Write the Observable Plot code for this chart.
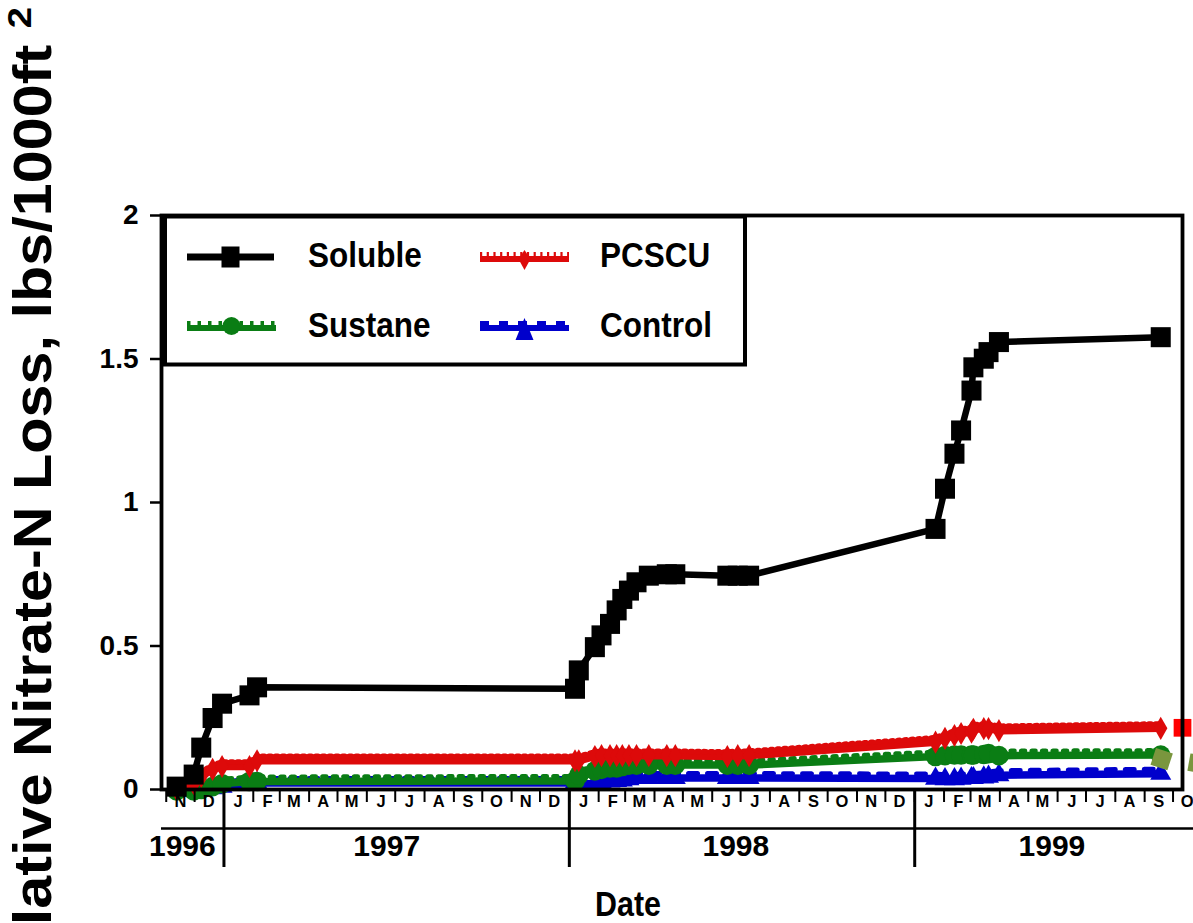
<!DOCTYPE html>
<html><head><meta charset="utf-8">
<script src="https://cdn.jsdelivr.net/npm/d3@7"></script>
<script src="https://cdn.jsdelivr.net/npm/@observablehq/plot@0.6"></script>
<style>
html,body{margin:0;padding:0;background:#fff;}
#chart{width:1193px;height:923px;overflow:hidden;}
</style></head><body><div id="chart"></div>
<script>
// ---- data ----
const dates = [
  "1996-11-12","1996-11-30","1996-12-08","1996-12-20","1996-12-30","1997-01-28","1997-02-05",
  "1998-01-07","1998-01-11","1998-01-28","1998-02-04","1998-02-13","1998-02-20","1998-02-26","1998-03-05","1998-03-13","1998-03-26","1998-04-14","1998-04-23","1998-06-17","1998-06-28","1998-07-10",
  "1999-01-23","1999-02-02","1999-02-12","1999-02-19","1999-03-02","1999-03-04","1999-03-15","1999-03-20","1999-03-31","1999-09-18"
];
const soluble = [0.01,0.052,0.146,0.249,0.299,0.328,0.356,
  0.351,0.415,0.496,0.537,0.577,0.624,0.664,0.693,0.722,0.745,0.75,0.75,0.745,0.745,0.745,
  0.908,1.048,1.17,1.251,1.39,1.471,1.501,1.524,1.559,1.576];
const pcscu = [0.0,0.02,0.045,0.07,0.08,0.08,0.10,
  0.10,0.10,0.115,0.118,0.118,0.118,0.118,0.118,0.118,0.118,0.118,0.118,0.115,0.118,0.118,
  0.165,0.178,0.188,0.195,0.2,0.21,0.212,0.212,0.205,0.213];
const sustane = [-0.005,-0.005,0.0,0.01,0.02,0.028,0.028,
  0.03,0.05,0.065,0.07,0.075,0.075,0.08,0.085,0.085,0.085,0.085,0.085,0.085,0.085,0.085,
  0.115,0.118,0.12,0.12,0.12,0.12,0.122,0.125,0.118,0.12];
const control = [0.0,-0.005,0.0,0.005,0.01,0.02,0.023,
  0.023,0.02,0.02,0.025,0.028,0.03,0.032,0.036,0.04,0.04,0.04,0.04,0.04,0.04,0.04,
  0.038,0.036,0.036,0.038,0.04,0.04,0.042,0.045,0.05,0.055];
// stray markers at the right edge of the original figure
const strayDates = ["1999-10-11","1999-09-19","1999-10-27"];
const strayValues = [0.215,0.106,0.09];
const strayColors = ["#ff0000","#7a963e","#7a963e"];
const strayRotate = [0,18,10];

const yTicks = [0,0.5,1,1.5,2];
const monthLabels = ["N","D",
  "J","F","M","A","M","J","J","A","S","O","N","D",
  "J","F","M","A","M","J","J","A","S","O","N","D",
  "J","F","M","A","M","J","J","A","S","O"];
const yearStarts = ["1997-01-01","1998-01-01","1999-01-01"];
const yearLabels = ["1996","1997","1998","1999"];
const yearLabelDates = ["1996-11-18","1997-06-22","1998-06-26","1999-05-26"];
const xDomain = ["1996-10-27","1999-10-11"];
const axisLineEnd = "1999-10-24";

const seriesNames = ["Soluble","PCSCU","Sustane","Control"];
const colors = {Soluble:"#000000", PCSCU:"#dd0a0a", Sustane:"#0a7d14", Control:"#0000cc"};

// ---- tables ----
const P = s => new Date(s + "T00:00:00Z");
const tbl = arr => dates.map((d,i) => ({date: P(d), value: arr[i]}));
const tSol = tbl(soluble), tPc = tbl(pcscu), tSu = tbl(sustane), tCo = tbl(control);
const monthStarts = d3.utcMonth.range(P("1996-11-01"), P("1999-11-01"));
const monthTable = monthLabels.map((l,i) => ({date: d3.utcDay.offset(monthStarts[i], 15), label: l}));
const yearTable = yearLabels.map((l,i) => ({date: P(yearLabelDates[i]), label: l}));
const strayTable = strayDates.map((d,i) => ({date: P(d), value: strayValues[i], color: strayColors[i], rot: strayRotate[i]}));

const F = "'Liberation Sans', Arial, Helvetica, sans-serif";

const plot = Plot.plot({
  width: 1193, height: 923,
  marginLeft: 161, marginRight: 11, marginTop: 215, marginBottom: 134,
  style: {fontFamily: F, fontWeight: "bold", color: "#000", background: "#fff", overflow: "hidden"},
  x: {type: "utc", domain: xDomain.map(P), label: null},
  y: {domain: [0, 2], label: null},
  marks: [
    // Control
    Plot.line(tCo, {x:"date", y:"value", stroke: colors.Control, strokeWidth: 7.5}),
    Plot.line(tCo, {x:"date", y:"value", stroke: colors.Control, strokeWidth: 5, strokeDasharray: "9,10", dy: -4.5}),
    Plot.dot(tCo, {x:"date", y:"value", symbol:"triangle", r: 7.8, fill: colors.Control, stroke: "none"}),
    // Sustane
    Plot.line(tSu, {x:"date", y:"value", stroke: colors.Sustane, strokeWidth: 7.5}),
    Plot.line(tSu, {x:"date", y:"value", stroke: colors.Sustane, strokeWidth: 5, strokeDasharray: "3.5,7", dy: -4.5}),
    Plot.dot(tSu, {x:"date", y:"value", symbol:"circle", r: 9.8, fill: colors.Sustane, stroke: "none"}),
    // PCSCU
    Plot.line(tPc, {x:"date", y:"value", stroke: colors.PCSCU, strokeWidth: 7.5}),
    Plot.line(tPc, {x:"date", y:"value", stroke: colors.PCSCU, strokeWidth: 5.5, strokeDasharray: "2.2,4.5", dy: -4.5}),
    Plot.dot(tPc, {x:"date", y:"value", symbol:"diamond", r: 7, fill: colors.PCSCU, stroke: "none"}),
    // Soluble
    Plot.line(tSol, {x:"date", y:"value", stroke: colors.Soluble, strokeWidth: 6.5, strokeLinejoin: "round"}),
    Plot.dot(tSol, {x:"date", y:"value", symbol:"square", r: 11.3, fill: colors.Soluble, stroke: "none"}),
    // stray markers
    Plot.dot(strayTable, {x:"date", y:"value", symbol:"square", r: 10, fill: "color", rotate: "rot", stroke: "none"}),
    // frame and axes
    Plot.frame({stroke: "#000", strokeWidth: 3.8}),
    Plot.axisY(yTicks, {tickSize: 11, tickPadding: 12, fontSize: 28, fontWeight: "bold", strokeWidth: 2.5, tickFormat: d => String(d), label: null}),
    Plot.axisX(monthStarts, {tickSize: 13, tickFormat: () => "", strokeWidth: 2, label: null}),
    Plot.axisX(yearStarts.map(P), {tickSize: 78, tickFormat: () => "", strokeWidth: 3, label: null}),
    Plot.text(monthTable, {x:"date", text:"label", frameAnchor:"bottom", dy: 17.5, fontSize: 16.5, fontWeight:"bold", fill:"#000"}),
    Plot.text(yearTable, {x:"date", text:"label", frameAnchor:"bottom", dy: 66, fontSize: 30, fontWeight:"bold", fill:"#000"}),
    Plot.ruleY([0], {x1: P(xDomain[0]), x2: P(axisLineEnd), dy: 39, strokeWidth: 2.5, stroke:"#000"})
  ]
});
document.getElementById("chart").appendChild(plot);

// ---- titles & legend (pixel layout) ----
const svg = d3.select(plot);
svg.append("text")
  .attr("transform", "translate(51,7) rotate(-90) scale(1.12,1)")
  .attr("text-anchor", "end")
  .attr("font-family", F).attr("font-weight", "bold").attr("font-size", 53)
  .call(t => {
    t.append("tspan").text("Cumulative Nitrate-N Loss, lbs/1000ft ");
    t.append("tspan").attr("font-size", 34).attr("dy", -20).text("2");
  });
svg.append("text").attr("transform", "translate(628,916) scale(0.95,1.1)").attr("text-anchor", "middle")
  .attr("font-family", F).attr("font-weight", "bold").attr("font-size", 32).text("Date");

const lg = svg.append("g");
lg.append("rect").attr("x", 165).attr("y", 216.5).attr("width", 580).attr("height", 148)
  .attr("fill", "#fff").attr("stroke", "#000").attr("stroke-width", 4);
const entries = [
  {name: "Soluble", x0: 187, x1: 274, y: 257, tx: 308, ty: 267, sym: "square"},
  {name: "PCSCU", x0: 480, x1: 569, y: 259, tx: 600, ty: 267, sym: "diamond"},
  {name: "Sustane", x0: 187, x1: 276, y: 328, tx: 308, ty: 337, sym: "circle"},
  {name: "Control", x0: 480, x1: 569, y: 328, tx: 600, ty: 337, sym: "triangle"}
];
const dashes = {PCSCU: "2.2,4.5", Sustane: "3.5,7", Control: "9,10"};
for (const e of entries) {
  const c = colors[e.name];
  lg.append("line").attr("x1", e.x0).attr("x2", e.x1).attr("y1", e.y).attr("y2", e.y)
    .attr("stroke", c).attr("stroke-width", e.name === "Soluble" ? 7 : 6);
  if (dashes[e.name]) {
    lg.append("line").attr("x1", e.x0).attr("x2", e.x1).attr("y1", e.y - 5).attr("y2", e.y - 5)
      .attr("stroke", c).attr("stroke-width", 4).attr("stroke-dasharray", dashes[e.name]);
  }
  const cx = (e.x0 + e.x1) / 2;
  if (e.sym === "square") lg.append("rect").attr("x", cx - 9).attr("y", e.y - 10.5).attr("width", 18).attr("height", 21).attr("fill", c);
  if (e.sym === "circle") lg.append("circle").attr("cx", cx).attr("cy", e.y - 2).attr("r", 9).attr("fill", c);
  if (e.sym === "diamond") lg.append("path").attr("d", `M${cx},${e.y-9}L${cx+6},${e.y}L${cx},${e.y+11}L${cx-6},${e.y}Z`).attr("fill", c);
  if (e.sym === "triangle") lg.append("path").attr("d", `M${cx},${e.y-10}L${cx+9},${e.y+12}L${cx-9},${e.y+12}Z`).attr("fill", c);
  lg.append("text").attr("transform", `translate(${e.tx},${e.ty}) scale(1,1.1)`)
    .attr("text-anchor", "start").attr("font-family", F).attr("font-weight", "bold")
    .attr("font-size", 31.5).attr("fill", "#000").text(e.name);
}
</script></body></html>
